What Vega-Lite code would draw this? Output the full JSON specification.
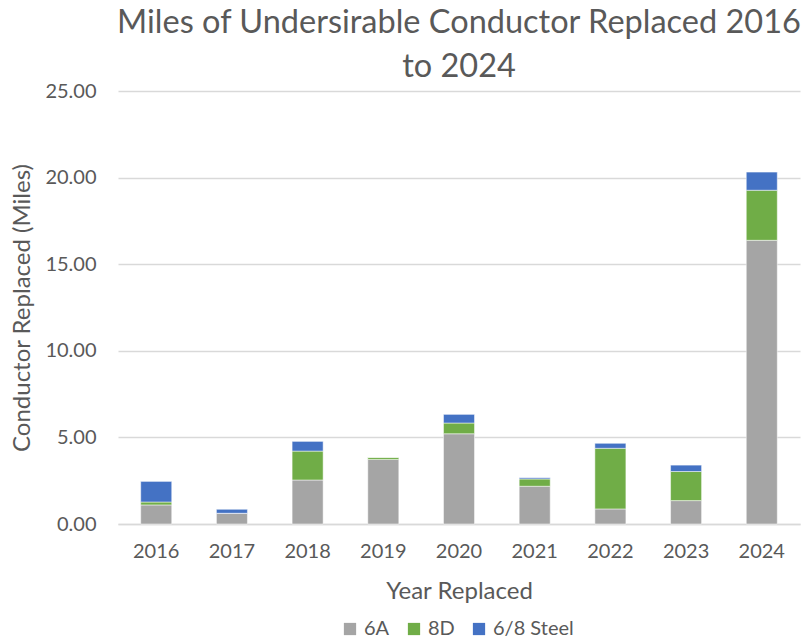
{
  "$schema": "https://vega.github.io/schema/vega-lite/v6.json",
  "width": 682,
  "height": 433,
  "autosize": "none",
  "padding": {"left": 118, "top": 91, "right": 3, "bottom": 116},
  "background": "white",
  "config": {
    "font": "Lato",
    "view": {"stroke": null},
    "axis": {"labelColor": "#595959", "titleColor": "#595959", "labelFont": "Lato", "titleFont": "Lato"}
  },
  "title": {
    "text": ["Miles of Undersirable Conductor Replaced 2016", "to 2024"],
    "fontSize": 32.5,
    "font": "Lato",
    "fontWeight": "normal",
    "color": "#595959",
    "anchor": "middle",
    "offset": -2,
    "lineHeight": 44
  },
  "data": {
    "values": [
      {"year": "2016", "type": "6A", "ord": 1, "miles": 1.10},
      {"year": "2016", "type": "8D", "ord": 2, "miles": 0.17},
      {"year": "2016", "type": "6/8 Steel", "ord": 3, "miles": 1.19},
      {"year": "2017", "type": "6A", "ord": 1, "miles": 0.62},
      {"year": "2017", "type": "8D", "ord": 2, "miles": 0.0},
      {"year": "2017", "type": "6/8 Steel", "ord": 3, "miles": 0.23},
      {"year": "2018", "type": "6A", "ord": 1, "miles": 2.54},
      {"year": "2018", "type": "8D", "ord": 2, "miles": 1.67},
      {"year": "2018", "type": "6/8 Steel", "ord": 3, "miles": 0.56},
      {"year": "2019", "type": "6A", "ord": 1, "miles": 3.73},
      {"year": "2019", "type": "8D", "ord": 2, "miles": 0.12},
      {"year": "2019", "type": "6/8 Steel", "ord": 3, "miles": 0.0},
      {"year": "2020", "type": "6A", "ord": 1, "miles": 5.21},
      {"year": "2020", "type": "8D", "ord": 2, "miles": 0.62},
      {"year": "2020", "type": "6/8 Steel", "ord": 3, "miles": 0.50},
      {"year": "2021", "type": "6A", "ord": 1, "miles": 2.18},
      {"year": "2021", "type": "8D", "ord": 2, "miles": 0.42},
      {"year": "2021", "type": "6/8 Steel", "ord": 3, "miles": 0.07},
      {"year": "2022", "type": "6A", "ord": 1, "miles": 0.87},
      {"year": "2022", "type": "8D", "ord": 2, "miles": 3.50},
      {"year": "2022", "type": "6/8 Steel", "ord": 3, "miles": 0.29},
      {"year": "2023", "type": "6A", "ord": 1, "miles": 1.35},
      {"year": "2023", "type": "8D", "ord": 2, "miles": 1.68},
      {"year": "2023", "type": "6/8 Steel", "ord": 3, "miles": 0.37},
      {"year": "2024", "type": "6A", "ord": 1, "miles": 16.38},
      {"year": "2024", "type": "8D", "ord": 2, "miles": 2.89},
      {"year": "2024", "type": "6/8 Steel", "ord": 3, "miles": 1.05}
    ]
  },
  "mark": {"type": "bar", "stroke": "white", "strokeWidth": 0.5},
  "encoding": {
    "x": {
      "field": "year",
      "type": "nominal",
      "scale": {"paddingInner": 0.59, "paddingOuter": 0.3},
      "axis": {
        "title": "Year Replaced",
        "titleFontSize": 24,
        "titleFontWeight": "normal",
        "titlePadding": 18,
        "labelFontSize": 20,
        "labelAngle": 0,
        "labelPadding": 17,
        "ticks": false,
        "domainColor": "#d9d9d9",
        "domainWidth": 1.5
      }
    },
    "y": {
      "field": "miles",
      "type": "quantitative",
      "stack": "zero",
      "scale": {"domain": [0, 25], "nice": false},
      "axis": {
        "title": "Conductor Replaced (Miles)",
        "titleFontSize": 24,
        "titleFontWeight": "normal",
        "titlePadding": 10,
        "labelFontSize": 20,
        "labelPadding": 22,
        "format": ".2f",
        "values": [0, 5, 10, 15, 20, 25],
        "ticks": false,
        "domain": false,
        "gridColor": "#d9d9d9",
        "gridWidth": 1.5
      }
    },
    "color": {
      "field": "type",
      "type": "nominal",
      "scale": {"domain": ["6A", "8D", "6/8 Steel"], "range": ["#a5a5a5", "#70ad47", "#4472c4"]},
      "legend": {
        "title": null,
        "orient": "none",
        "legendX": 222,
        "legendY": 528,
        "direction": "horizontal",
        "labelFontSize": 20,
        "labelColor": "#595959",
        "symbolType": "square",
        "symbolSize": 150,
        "symbolStrokeWidth": 0,
        "columnPadding": 14
      }
    },
    "order": {"field": "ord", "type": "quantitative"}
  }
}
